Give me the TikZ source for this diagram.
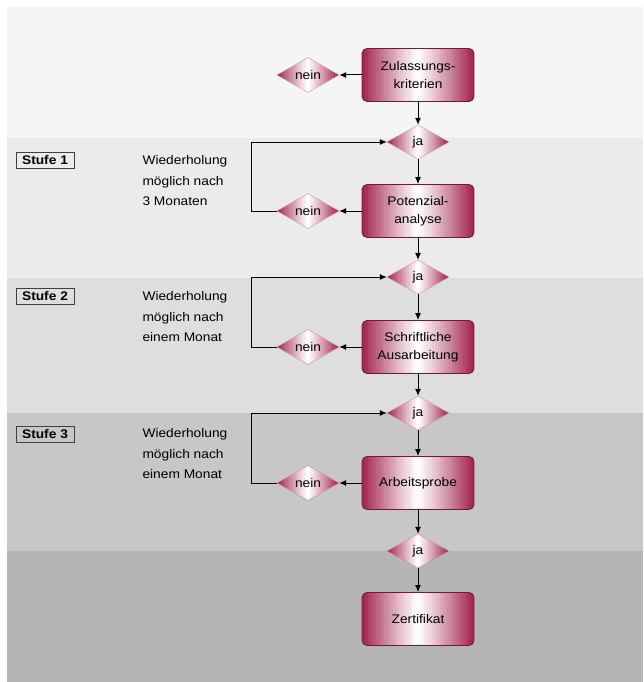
\documentclass[tikz,border=0pt]{standalone}
\usepackage{fontspec}
\setmainfont[FakeStretch=1.1]{Liberation Sans}
\usetikzlibrary{shapes.geometric,arrows.meta}
\definecolor{wein}{RGB}{160,32,78}
\definecolor{weinrand}{RGB}{115,22,55}

% Farbverlauf quer ueber eine Flaeche: Mitte x, Mitte y, halbe Breite
\newcommand{\weinverlauf}[3]{%
	\foreach \i in {0,...,39}{
		\pgfmathsetmacro\p{100*(abs(\i+0.5-20)/20)^1.1}
		\fill[wein!\p!white] ({#1+(\i/40-0.5)*2*#3},#2-40) rectangle ++({2.6*#3/40},80);
	}}

\tikzset{
	kasten/.style={draw=weinrand, line width=0.8pt, rounded corners=5pt, minimum width=112pt, minimum height=53pt, align=center, font=\fontsize{12.5}{18}\selectfont},
	raute/.style={diamond, draw=wein!50, minimum width=62pt, minimum height=34pt, inner sep=0pt, font=\fontsize{12.5}{15}\selectfont},
	pfeil/.style={-{Latex[length=7pt,width=6pt]}, line width=1pt},
	stufe/.style={draw=black!75, line width=0.7pt, inner xsep=6pt, inner ysep=3.5pt, font=\bfseries\fontsize{12.5}{15}\selectfont},
	hinweis/.style={anchor=west, align=left, font=\fontsize{12.5}{20.5}\selectfont}
}

\begin{document}
\begin{tikzpicture}[x=1pt,y=-1pt]
	\useasboundingbox[fill=white] (0,0) rectangle (643,682);
	% Hintergrund
	\foreach \a/\b/\c in {7/138/black!4, 138/278/black!8, 278/413/black!13, 413/551/black!22, 551/682/black!29}
		\fill[\c] (7,\a) rectangle (643,\b);
	% Verlaeufe
	\foreach \y in {75,211,347,483,619}{
		\begin{scope}
			\clip[rounded corners=5pt] (362,\y-26.5) rectangle (474,\y+26.5);
			\weinverlauf{418}{\y}{56}
		\end{scope}}
	\foreach \x/\y in {418/142, 418/277, 418/413, 418/551, 308/75, 308/211, 308/347, 308/483}{
		\begin{scope}
			\clip (\x-31,\y)--(\x,\y-17)--(\x+31,\y)--(\x,\y+17)--cycle;
			\weinverlauf{\x}{\y}{31}
		\end{scope}}
	% Ablauf
	\node[kasten] (zul) at (418,75) {Zulassungs-\\kriterien};
	\node[kasten] (pot) at (418,211) {Potenzial-\\analyse};
	\node[kasten] (schr) at (418,347) {Schriftliche\\Ausarbeitung};
	\node[kasten] (arb) at (418,483) {Arbeitsprobe};
	\node[kasten] (zert) at (418,619) {Zertifikat};
	\foreach \n/\y in {1/142, 2/277, 3/413, 4/551}
		\node[raute] (ja\n) at (418,\y) {ja};
	\foreach \n/\y in {0/75, 1/211, 2/347, 3/483}
		\node[raute] (nein\n) at (308,\y) {nein};
	% Pfeile
	\draw[pfeil] (zul.west)--(nein0.east);
	\draw[pfeil] (pot.west)--(nein1.east);
	\draw[pfeil] (schr.west)--(nein2.east);
	\draw[pfeil] (arb.west)--(nein3.east);
	\draw[pfeil] (zul.south)--(ja1.north);
	\draw[pfeil] (ja1.south)--(pot.north);
	\draw[pfeil] (pot.south)--(ja2.north);
	\draw[pfeil] (ja2.south)--(schr.north);
	\draw[pfeil] (schr.south)--(ja3.north);
	\draw[pfeil] (ja3.south)--(arb.north);
	\draw[pfeil] (arb.south)--(ja4.north);
	\draw[pfeil] (ja4.south)--(zert.north);
	\foreach \n in {1,2,3}
		\draw[pfeil] (nein\n.west)--(251,0|-nein\n.west)--(251,0|-ja\n.west)--(ja\n.west);
	% Stufen
	\node[stufe] (s1) at (45,160) {Stufe 1};
	\node[stufe] (s2) at (45,296) {Stufe 2};
	\node[stufe] (s3) at (45,434) {Stufe 3};
	\node[hinweis] (w1) at (139,181) {Wiederholung\\möglich nach\\3 Monaten};
	\node[hinweis] (w2) at (139,317) {Wiederholung\\möglich nach\\einem Monat};
	\node[hinweis] (w3) at (139,454) {Wiederholung\\möglich nach\\einem Monat};
\end{tikzpicture}
\end{document}
